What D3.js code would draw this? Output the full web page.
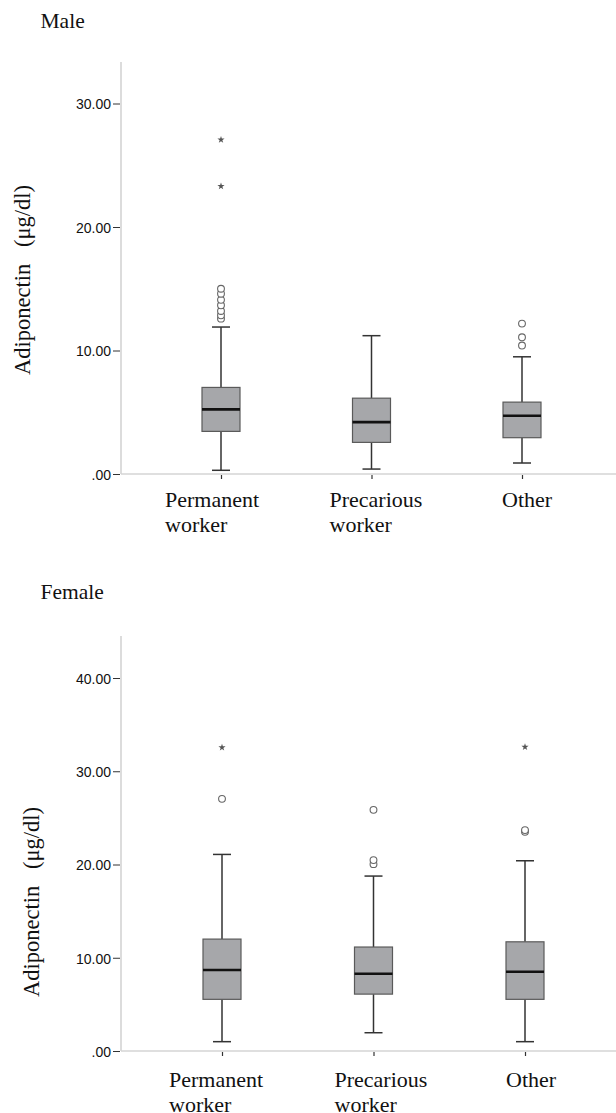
<!DOCTYPE html>
<html>
<head>
<meta charset="utf-8">
<script src="https://cdn.jsdelivr.net/npm/d3@7"></script>
<style>
  body { margin: 0; background: #fff; }
  svg { display: block; }
</style>
</head>
<body>
<div id="chart"></div>
<script>
// categories and label lines
const categories = ["Permanent worker", "Precarious worker", "Other"];
const labelLines = [["Permanent", "worker"], ["Precarious", "worker"], ["Other"]];

// Male: [lower whisker, q1, median, q3, upper whisker]
const maleStats = [
  [0.3, 3.45, 5.23, 7.01, 11.9],
  [0.4, 2.56, 4.2, 6.14, 11.2],
  [0.89, 2.94, 4.72, 5.82, 9.49]
];
const maleOutliers = [
  [12.58, 12.85, 13.2, 13.66, 14.1, 14.6, 15.0],
  [],
  [10.4, 11.07, 12.18]
];
const maleExtremes = [[23.3, 27.07], [], []];
const maleTicks = [0, 10, 20, 30];

// Female
const femaleStats = [
  [1.0, 5.54, 8.68, 12.0, 21.08],
  [1.96, 6.1, 8.29, 11.15, 18.76],
  [1.0, 5.54, 8.5, 11.71, 20.4]
];
const femaleOutliers = [
  [27.04],
  [20.04, 20.47, 25.86],
  [23.5, 23.69]
];
const femaleExtremes = [[32.55], [], [32.6]];
const femaleTicks = [0, 10, 20, 30, 40];

const width = 616, height = 1113;
const serif = "'Liberation Serif', Tinos, 'Times New Roman', Times, serif";
const sans = "'Liberation Sans', Arimo, Arial, Helvetica, sans-serif";

const svg = d3.select("#chart").append("svg")
  .attr("width", width)
  .attr("height", height);

const fmt = v => v === 0 ? ".00" : d3.format(".2f")(v);

function drawPanel(opt) {
  const g = svg.append("g");

  const x = d3.scalePoint().domain(categories).range(opt.xRange);
  const y = d3.scaleLinear().domain(opt.yDomain).range(opt.yRange);

  // title
  g.append("text")
    .attr("x", 40.5).attr("y", opt.titleY)
    .style("font-family", serif).style("font-size", "21.5px").style("fill", "#111")
    .text(opt.title);

  // y axis title
  g.append("text")
    .attr("transform", `translate(${opt.ylabX},${opt.ylabY}) rotate(-90)`)
    .attr("text-anchor", "middle")
    .style("font-family", serif).style("font-size", "22.5px").style("fill", "#111")
    .text("Adiponectin\u00a0\u00a0\u00a0(\u03bcg/dl)");

  // axis frame lines (light gray)
  g.append("line")
    .attr("x1", opt.axisX).attr("x2", opt.axisX)
    .attr("y1", opt.axisTop).attr("y2", y(0))
    .attr("stroke", "#d4d4d4").attr("stroke-width", 1.6);
  g.append("line")
    .attr("x1", opt.axisX).attr("x2", width)
    .attr("y1", y(0)).attr("y2", y(0))
    .attr("stroke", "#d4d4d4").attr("stroke-width", 1.6);

  // y ticks
  const yAxis = g.append("g")
    .attr("transform", `translate(${opt.axisX - 1},0)`)
    .call(d3.axisLeft(y).tickValues(opt.ticks).tickFormat(fmt).tickSize(7).tickPadding(2));
  yAxis.select(".domain").remove();
  yAxis.selectAll(".tick line").attr("stroke", "#333");
  yAxis.selectAll(".tick text")
    .style("font-family", sans).style("font-size", "14px").style("fill", "#111")
    .attr("dy", "0.38em");

  // x ticks
  const xAxis = g.append("g")
    .attr("transform", `translate(0,${y(0)})`)
    .call(d3.axisBottom(x).tickSize(5).tickFormat(""));
  xAxis.select(".domain").remove();
  xAxis.selectAll(".tick line").attr("stroke", "#333").attr("stroke-width", 1.2)
    .attr("y1", 1);

  // x labels (left-aligned lines)
  categories.forEach((c, i) => {
    const t = g.append("text")
      .attr("x", x(c) + opt.labelShift[i])
      .attr("y", opt.labelY)
      .style("font-family", serif).style("font-size", "22px").style("fill", "#111");
    labelLines[i].forEach((ln, j) => {
      t.append("tspan")
        .attr("x", x(c) + opt.labelShift[i])
        .attr("dy", j === 0 ? 0 : 25)
        .text(ln);
    });
  });

  const bw = 38, cap = 18;

  categories.forEach((c, i) => {
    const s = opt.stats[i];
    const cx = x(c);
    const bg = g.append("g");

    // whiskers
    bg.append("line")
      .attr("x1", cx).attr("x2", cx)
      .attr("y1", y(s[0])).attr("y2", y(s[1]))
      .attr("stroke", "#333").attr("stroke-width", 1.5);
    bg.append("line")
      .attr("x1", cx).attr("x2", cx)
      .attr("y1", y(s[3])).attr("y2", y(s[4]))
      .attr("stroke", "#333").attr("stroke-width", 1.5);
    [s[0], s[4]].forEach(v => {
      bg.append("line")
        .attr("x1", cx - cap / 2).attr("x2", cx + cap / 2)
        .attr("y1", y(v)).attr("y2", y(v))
        .attr("stroke", "#333").attr("stroke-width", 1.5);
    });

    // box
    bg.append("rect")
      .attr("x", cx - bw / 2)
      .attr("y", y(s[3]))
      .attr("width", bw)
      .attr("height", y(s[1]) - y(s[3]))
      .attr("fill", "#a6a7aa")
      .attr("stroke", "#5a5a5a")
      .attr("stroke-width", 1.2);

    // median
    bg.append("line")
      .attr("x1", cx - bw / 2).attr("x2", cx + bw / 2)
      .attr("y1", y(s[2])).attr("y2", y(s[2]))
      .attr("stroke", "#111").attr("stroke-width", 2.6);

    // outliers
    bg.selectAll("circle.o")
      .data(opt.outliers[i])
      .enter().append("circle")
      .attr("class", "o")
      .attr("cx", cx)
      .attr("cy", d => y(d))
      .attr("r", 3.4)
      .attr("fill", "#fff")
      .attr("stroke", "#666")
      .attr("stroke-width", 1.1);

    // extremes
    bg.selectAll("path.e")
      .data(opt.extremes[i])
      .enter().append("path")
      .attr("class", "e")
      .attr("transform", d => `translate(${cx},${y(d)})`)
      .attr("d", d3.symbol(d3.symbolStar, 16))
      .attr("fill", "#555");
  });
}

drawPanel({
  title: "Male", titleY: 28,
  stats: maleStats, outliers: maleOutliers, extremes: maleExtremes,
  ticks: maleTicks,
  yDomain: [0, 30], yRange: [474, 103.5],
  xRange: [221, 522],
  axisX: 121, axisTop: 62,
  ylabX: 30, ylabY: 280,
  labelY: 507, labelShift: [-56, -42, -20]
});

drawPanel({
  title: "Female", titleY: 599,
  stats: femaleStats, outliers: femaleOutliers, extremes: femaleExtremes,
  ticks: femaleTicks,
  yDomain: [0, 40], yRange: [1051, 678],
  xRange: [222, 525],
  axisX: 121, axisTop: 636,
  ylabX: 39, ylabY: 902,
  labelY: 1087, labelShift: [-53, -39, -19]
});
</script>
</body>
</html>
